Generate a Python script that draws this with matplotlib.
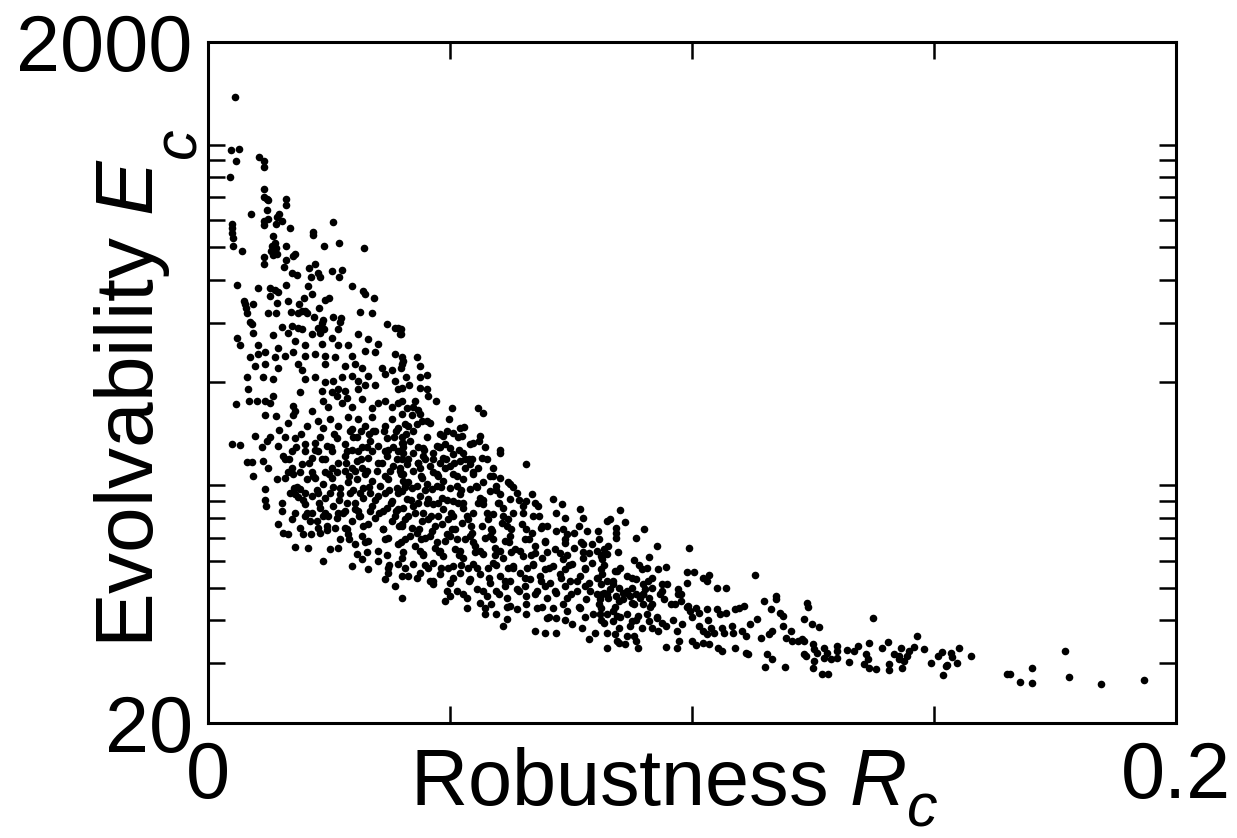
import numpy as np
import matplotlib
matplotlib.use("Agg")
import matplotlib.pyplot as plt
from matplotlib.ticker import NullFormatter

plt.rcParams['font.family'] = 'Liberation Sans'
plt.rcParams['mathtext.fontset'] = 'custom'
plt.rcParams['mathtext.rm'] = 'Liberation Sans'
plt.rcParams['mathtext.it'] = 'Liberation Sans:italic'

# (robustness R_c, evolvability E_c), grouped by region
pts_top_left = [
    (0.0056, 1380), (0.0047, 961), (0.0064, 968), (0.0058, 892), (0.0045, 801), (0.0105, 917),
    (0.0116, 892), (0.0116, 857), (0.0116, 738), (0.0116, 699), (0.0122, 690), (0.0124, 685),
    (0.0161, 694), (0.0161, 662), (0.0122, 640), (0.0089, 623), (0.0147, 627), (0.0142, 611),
    (0.0116, 598), (0.0124, 606), (0.0116, 582), (0.0153, 598), (0.0140, 586), (0.0169, 567),
    (0.0258, 594), (0.0050, 586), (0.0050, 567), (0.0050, 548), (0.0052, 533), (0.0217, 555),
    (0.0217, 544), (0.0134, 540), (0.0052, 502), (0.0070, 488), (0.0138, 515), (0.0132, 502),
    (0.0140, 498), (0.0130, 488), (0.0161, 502), (0.0239, 505), (0.0270, 512), (0.0322, 495),
    (0.0134, 475), (0.0142, 478), (0.0175, 472), (0.0180, 478), (0.0116, 466), (0.0116, 447),
    (0.0161, 459), (0.0157, 438), (0.0208, 435), (0.0221, 447), (0.0173, 418), (0.0184, 415),
    (0.0227, 418), (0.0231, 409), (0.0213, 407), (0.0256, 424), (0.0277, 429), (0.0270, 407),
    (0.0060, 388), (0.0103, 380), (0.0128, 380), (0.0138, 375), (0.0144, 370), (0.0128, 360),
    (0.0161, 388), (0.0206, 383), (0.0215, 365), (0.0198, 355), (0.0297, 383), (0.0320, 372),
    (0.0324, 365), (0.0343, 355), (0.0074, 348), (0.0076, 339), (0.0078, 330), (0.0080, 319),
    (0.0093, 341), (0.0165, 348), (0.0142, 343), (0.0241, 350), (0.0250, 353), (0.0229, 332),
    (0.0188, 339), (0.0194, 325), (0.0200, 325), (0.0186, 321), (0.0204, 321), (0.0124, 319),
    (0.0140, 319), (0.0171, 323), (0.0219, 312), (0.0258, 312), (0.0275, 310), (0.0272, 302),
    (0.0314, 323), (0.0338, 319), (0.0237, 306), (0.0235, 300), (0.0087, 302), (0.0091, 298),
    (0.0153, 292), (0.0173, 294), (0.0186, 290), (0.0194, 288), (0.0227, 290), (0.0239, 288),
    (0.0369, 298), (0.0386, 290), (0.0392, 290), (0.0268, 288),
]

pts_left_core = [
    (0.0060, 271), (0.0066, 257), (0.0093, 280), (0.0134, 275), (0.0103, 257), (0.0144, 253),
    (0.0180, 265), (0.0200, 257), (0.0215, 278), (0.0235, 260), (0.0256, 271), (0.0268, 257),
    (0.0289, 257), (0.0310, 278), (0.0330, 269), (0.0351, 260), (0.0396, 278), (0.0165, 280),
    (0.0231, 280),
    (0.0087, 237), (0.0103, 243), (0.0118, 245), (0.0138, 237), (0.0159, 240), (0.0175, 245),
    (0.0200, 240), (0.0221, 243), (0.0241, 240), (0.0262, 237), (0.0297, 240), (0.0324, 248),
    (0.0345, 245), (0.0386, 243), (0.0097, 224), (0.0118, 227), (0.0144, 221), (0.0186, 227),
    (0.0194, 217), (0.0241, 227), (0.0283, 224), (0.0303, 227), (0.0318, 220), (0.0359, 220),
    (0.0380, 217), (0.0400, 227),
    (0.0080, 207), (0.0114, 207), (0.0134, 205), (0.0083, 192), (0.0200, 205), (0.0221, 207),
    (0.0241, 200), (0.0258, 202), (0.0277, 207), (0.0297, 209), (0.0310, 202), (0.0330, 209),
    (0.0345, 196), (0.0365, 212), (0.0386, 202), (0.0392, 192), (0.0190, 187), (0.0268, 192),
    (0.0283, 189), (0.0310, 192), (0.0324, 196),
    (0.0058, 173), (0.0085, 176), (0.0101, 176), (0.0118, 177), (0.0128, 174), (0.0134, 183),
    (0.0175, 171), (0.0180, 165), (0.0215, 165), (0.0237, 177), (0.0248, 169), (0.0266, 183),
    (0.0277, 174), (0.0287, 180), (0.0297, 169), (0.0318, 179), (0.0338, 168), (0.0351, 174),
    (0.0365, 177), (0.0380, 169), (0.0392, 174), (0.0235, 189), (0.0256, 187),
    (0.0118, 160), (0.0140, 159), (0.0175, 160), (0.0204, 149), (0.0227, 154), (0.0237, 147),
    (0.0252, 156), (0.0268, 149), (0.0289, 158), (0.0297, 146), (0.0310, 156), (0.0324, 149),
    (0.0338, 158), (0.0345, 144), (0.0365, 149), (0.0380, 156), (0.0392, 147), (0.0147, 145),
    (0.0165, 152), (0.0400, 162),
    (0.0050, 132), (0.0066, 131), (0.0097, 139), (0.0111, 129), (0.0122, 135), (0.0128, 138),
    (0.0144, 130), (0.0180, 137), (0.0200, 132), (0.0221, 133), (0.0246, 130), (0.0266, 137),
    (0.0283, 132), (0.0299, 138), (0.0318, 129), (0.0334, 135), (0.0351, 130), (0.0369, 137),
    (0.0382, 129), (0.0400, 133), (0.0159, 138),
    (0.0080, 117), (0.0091, 117), (0.0114, 118), (0.0124, 112), (0.0155, 122), (0.0159, 119),
    (0.0173, 112), (0.0194, 115), (0.0215, 120), (0.0235, 119), (0.0256, 112), (0.0268, 116),
    (0.0283, 122), (0.0308, 118), (0.0318, 112), (0.0330, 120), (0.0351, 116), (0.0369, 122),
    (0.0382, 114), (0.0400, 119), (0.0297, 112),
    (0.0093, 106), (0.0142, 104), (0.0159, 105), (0.0177, 98.1), (0.0190, 97.4), (0.0204, 104),
    (0.0221, 105), (0.0237, 101), (0.0256, 105), (0.0272, 98.1), (0.0289, 102), (0.0308, 104),
    (0.0320, 98.1), (0.0338, 103), (0.0355, 99.4), (0.0372, 104), (0.0390, 98.1), (0.0402, 103),
    (0.0118, 97.4),
    (0.0180, 94.2), (0.0186, 92.3), (0.0118, 90.4), (0.0120, 86.8), (0.0153, 88.6), (0.0200, 88.0),
    (0.0215, 92.9), (0.0231, 85.7), (0.0241, 91.7), (0.0258, 86.8), (0.0272, 94.2), (0.0287, 88.6),
    (0.0303, 85.1), (0.0320, 91.7), (0.0338, 86.8), (0.0351, 92.9), (0.0369, 85.7), (0.0380, 89.8),
    (0.0392, 85.1), (0.0153, 83.9),
    (0.0144, 76.9), (0.0173, 79.5), (0.0200, 81.2), (0.0211, 78.5), (0.0225, 78.5), (0.0248, 81.2),
    (0.0266, 80.1), (0.0283, 74.8), (0.0297, 78.5), (0.0314, 81.2), (0.0330, 76.9), (0.0345, 80.1),
    (0.0361, 74.3), (0.0380, 78.5), (0.0400, 75.8), (0.0268, 82.8),
    (0.0155, 72.3), (0.0165, 71.9), (0.0196, 71.9), (0.0213, 71.9), (0.0231, 72.3), (0.0246, 73.8),
    (0.0272, 69.5), (0.0289, 71.9), (0.0303, 67.2), (0.0318, 70.9), (0.0330, 68.5), (0.0351, 64.1),
    (0.0372, 69.9), (0.0392, 67.2), (0.0180, 65.8), (0.0206, 65.4), (0.0252, 64.9), (0.0268, 65.4),
    (0.0237, 59.8), (0.0297, 57.9), (0.0318, 60.6), (0.0330, 56.7), (0.0351, 59.8), (0.0372, 57.1),
    (0.0392, 58.7), (0.0308, 62.7),
    (0.0365, 53.0), (0.0386, 50.5), (0.0400, 54.1), (0.0372, 55.2),
]

pts_mid_upper = [
    (0.0398, 288), (0.0398, 278), (0.0400, 237), (0.0402, 232), (0.0431, 237), (0.0438, 224),
    (0.0398, 220), (0.0409, 207), (0.0438, 207), (0.0452, 211), (0.0415, 196), (0.0438, 193),
    (0.0452, 192), (0.0454, 182), (0.0400, 193), (0.0471, 176), (0.0427, 177), (0.0400, 177),
    (0.0411, 168), (0.0423, 169), (0.0433, 166), (0.0438, 162), (0.0504, 168), (0.0557, 168),
    (0.0568, 163), (0.0497, 156), (0.0421, 160), (0.0407, 151), (0.0413, 149), (0.0431, 151),
    (0.0442, 154), (0.0452, 154), (0.0458, 152), (0.0423, 144), (0.0479, 141), (0.0485, 139),
    (0.0520, 147), (0.0528, 148), (0.0493, 144), (0.0506, 142), (0.0561, 139), (0.0559, 135),
    (0.0516, 138), (0.0524, 139), (0.0452, 138), (0.0400, 138), (0.0402, 133), (0.0417, 135),
    (0.0433, 129), (0.0444, 128), (0.0473, 130), (0.0479, 129), (0.0489, 132), (0.0499, 128),
    (0.0541, 132), (0.0547, 133), (0.0572, 129), (0.0603, 127),
]

pts_mid_core = [
    (0.0658, 115), (0.0619, 102), (0.0623, 101), (0.0712, 91.0), (0.0731, 88.0), (0.0737, 80.1),
    (0.0768, 85.1), (0.0774, 80.1), (0.0784, 73.3), (0.0805, 73.3), (0.0603, 124), (0.0566, 120),
    (0.0541, 115), (0.0557, 112), (0.0588, 112), (0.0603, 105), (0.0638, 94.8), (0.0669, 94.2),
    (0.0681, 86.8), (0.0658, 89.8), (0.0700, 75.8), (0.0720, 73.3), (0.0741, 71.9), (0.0757, 72.3),
    (0.0774, 67.2), (0.0793, 67.2), (0.0803, 64.1),
    (0.0400, 46.6), (0.0464, 51.2), (0.0489, 45.6), (0.0499, 47.2), (0.0535, 43.6), (0.0572, 43.6),
    (0.0572, 41.8), (0.0561, 45.0), (0.0596, 41.8), (0.0609, 38.5), (0.0617, 40.4), (0.0658, 41.8),
    (0.0675, 37.2), (0.0696, 36.7), (0.0720, 36.7), (0.0700, 40.7), (0.0720, 40.7), (0.0753, 39.0),
    (0.0772, 38.0), (0.0788, 35.2), (0.0799, 36.7), (0.0679, 43.6), (0.0638, 43.3),
    (0.0402, 124), (0.0423, 124), (0.0444, 122), (0.0464, 124), (0.0485, 120), (0.0506, 123),
    (0.0526, 124), (0.0411, 115), (0.0433, 116), (0.0458, 114), (0.0479, 116), (0.0499, 114),
    (0.0520, 118), (0.0545, 119),
    (0.0402, 108), (0.0423, 110), (0.0442, 105), (0.0464, 109), (0.0485, 103), (0.0506, 108),
    (0.0526, 104), (0.0547, 109), (0.0568, 102), (0.0582, 106), (0.0413, 102), (0.0452, 101),
    (0.0475, 106),
    (0.0400, 96.1), (0.0421, 98.1), (0.0438, 92.9), (0.0462, 97.4), (0.0483, 91.7), (0.0499, 98.1),
    (0.0520, 94.2), (0.0541, 97.4), (0.0561, 91.7), (0.0582, 96.1), (0.0603, 94.2), (0.0623, 91.0),
    (0.0411, 91.0), (0.0454, 91.0), (0.0506, 89.8),
    (0.0402, 85.7), (0.0423, 86.8), (0.0444, 82.8), (0.0464, 88.0), (0.0485, 85.1), (0.0506, 81.2),
    (0.0526, 85.7), (0.0547, 82.8), (0.0568, 88.0), (0.0588, 82.3), (0.0609, 85.7), (0.0630, 82.8),
    (0.0650, 86.8), (0.0671, 81.2), (0.0413, 81.2), (0.0475, 81.2),
    (0.0400, 76.9), (0.0421, 74.8), (0.0442, 78.5), (0.0462, 73.3), (0.0483, 76.9), (0.0504, 74.3),
    (0.0524, 77.4), (0.0545, 72.3), (0.0566, 75.8), (0.0586, 73.3), (0.0607, 77.4), (0.0627, 74.3),
    (0.0648, 76.9), (0.0669, 72.3), (0.0689, 74.8), (0.0431, 72.3), (0.0493, 71.9),
    (0.0407, 69.5), (0.0427, 66.3), (0.0448, 69.9), (0.0469, 65.4), (0.0489, 68.5), (0.0510, 64.9),
    (0.0530, 69.5), (0.0551, 66.3), (0.0572, 69.9), (0.0592, 65.4), (0.0613, 68.5), (0.0634, 64.9),
    (0.0654, 69.5), (0.0675, 66.3), (0.0696, 68.5), (0.0716, 64.9), (0.0737, 67.6), (0.0757, 65.4),
    (0.0400, 61.0), (0.0423, 58.7), (0.0444, 62.7), (0.0464, 59.0), (0.0485, 61.9), (0.0506, 57.9),
    (0.0526, 61.0), (0.0547, 58.7), (0.0568, 62.7), (0.0588, 59.0), (0.0609, 61.0), (0.0630, 57.9),
    (0.0650, 61.9), (0.0671, 58.7), (0.0691, 61.0), (0.0712, 57.9), (0.0733, 60.6), (0.0753, 58.7),
    (0.0774, 61.0), (0.0793, 59.0),
    (0.0413, 54.1), (0.0438, 55.2), (0.0458, 52.3), (0.0479, 54.9), (0.0499, 51.6), (0.0520, 55.2),
    (0.0541, 53.0), (0.0561, 54.9), (0.0582, 51.6), (0.0603, 54.1), (0.0623, 52.3), (0.0644, 55.2),
    (0.0665, 53.0), (0.0685, 54.1), (0.0706, 51.6), (0.0727, 54.9), (0.0747, 52.3), (0.0768, 54.1),
    (0.0788, 51.6), (0.0805, 53.4),
    (0.0514, 48.9), (0.0535, 46.6), (0.0555, 49.5), (0.0576, 47.2), (0.0596, 48.9), (0.0617, 46.6),
    (0.0638, 49.5), (0.0658, 47.2), (0.0679, 48.9), (0.0700, 46.6), (0.0720, 48.2), (0.0741, 46.6),
    (0.0762, 48.9), (0.0782, 46.2), (0.0803, 47.8),
    (0.0623, 44.2), (0.0712, 43.6), (0.0741, 42.7), (0.0768, 43.6), (0.0795, 41.8),
]

# points in the solid-black core of the cloud
pts_core_fill = [
    (0.0293, 144), (0.0316, 144), (0.0341, 144), (0.0363, 144), (0.0388, 144),
    (0.0287, 126), (0.0310, 126), (0.0338, 126), (0.0365, 126), (0.0392, 126),
    (0.0283, 110), (0.0303, 110), (0.0328, 110), (0.0349, 110), (0.0376, 110), (0.0396, 110),
    (0.0293, 94.8), (0.0314, 94.8), (0.0334, 94.8), (0.0365, 94.8), (0.0392, 94.8),
    (0.0283, 83.9), (0.0310, 83.9), (0.0334, 83.9), (0.0361, 83.9), (0.0388, 83.9),
    (0.0173, 126), (0.0200, 126), (0.0227, 126), (0.0256, 126),
    (0.0165, 109), (0.0190, 109), (0.0215, 109), (0.0241, 109), (0.0266, 109),
    (0.0169, 94.8), (0.0200, 94.8), (0.0227, 94.8), (0.0252, 94.8),
    (0.0180, 82.8), (0.0215, 82.8), (0.0241, 82.8),
    (0.0190, 74.8), (0.0227, 74.8), (0.0262, 74.8),
    (0.0413, 119), (0.0448, 119), (0.0491, 119), (0.0532, 119), (0.0576, 119),
    (0.0396, 112), (0.0438, 112), (0.0489, 112), (0.0530, 112),
    (0.0407, 99.4), (0.0431, 99.4), (0.0473, 99.4), (0.0514, 99.4), (0.0553, 99.4), (0.0596, 99.4),
    (0.0433, 88.6), (0.0475, 88.6), (0.0516, 88.6), (0.0557, 88.6), (0.0599, 88.6),
    (0.0407, 79.5), (0.0454, 79.5), (0.0495, 79.5), (0.0537, 79.5), (0.0578, 79.5), (0.0619, 79.5),
    (0.0417, 70.9), (0.0458, 70.9), (0.0499, 70.9), (0.0541, 70.9), (0.0582, 70.9), (0.0623, 70.9),
    (0.0438, 64.1), (0.0479, 64.1), (0.0520, 64.1), (0.0561, 64.1), (0.0603, 64.1), (0.0644, 64.1),
    (0.0454, 57.1), (0.0495, 57.1), (0.0537, 57.1), (0.0578, 57.1), (0.0619, 57.1), (0.0660, 57.1),
    (0.0613, 50.5), (0.0654, 50.5), (0.0696, 50.5), (0.0737, 50.5), (0.0778, 50.5),
    (0.0696, 56.7), (0.0737, 56.7), (0.0778, 56.7),
    (0.0675, 63.2), (0.0727, 63.2), (0.0788, 63.2),
]

pts_core_dense = [
    (0.0192, 141), (0.0231, 138), (0.0260, 141), (0.0308, 138), (0.0332, 141), (0.0384, 138),
    (0.0409, 141),
    (0.0182, 129), (0.0221, 127), (0.0254, 129), (0.0297, 127), (0.0328, 129), (0.0372, 127),
    (0.0402, 129), (0.0446, 127), (0.0477, 129), (0.0518, 127),
    (0.0167, 119), (0.0208, 116), (0.0241, 119), (0.0285, 116), (0.0316, 119), (0.0359, 116),
    (0.0390, 119), (0.0433, 116), (0.0464, 119), (0.0508, 116), (0.0539, 119),
    (0.0175, 108), (0.0217, 106), (0.0250, 108), (0.0291, 106), (0.0324, 108), (0.0365, 106),
    (0.0398, 108), (0.0440, 106), (0.0473, 108), (0.0514, 106), (0.0547, 108), (0.0588, 106),
    (0.0184, 98.7), (0.0225, 96.8), (0.0258, 98.7), (0.0299, 96.8), (0.0332, 98.7), (0.0374, 96.8),
    (0.0407, 98.7), (0.0448, 96.8), (0.0481, 98.7), (0.0522, 96.8), (0.0555, 98.7), (0.0596, 96.8),
    (0.0630, 98.7),
    (0.0196, 90.4), (0.0229, 88.6), (0.0270, 90.4), (0.0303, 88.6), (0.0345, 90.4), (0.0378, 88.6),
    (0.0419, 90.4), (0.0452, 88.6), (0.0493, 90.4), (0.0526, 88.6), (0.0568, 90.4), (0.0601, 88.6),
    (0.0642, 90.4), (0.0675, 88.6),
    (0.0204, 82.8), (0.0237, 81.2), (0.0279, 82.8), (0.0312, 81.2), (0.0353, 82.8), (0.0386, 81.2),
    (0.0427, 82.8), (0.0460, 81.2), (0.0502, 82.8), (0.0535, 81.2), (0.0576, 82.8), (0.0609, 81.2),
    (0.0650, 82.8), (0.0683, 81.2), (0.0720, 82.8),
    (0.0246, 75.8), (0.0287, 74.3), (0.0320, 75.8), (0.0361, 74.3), (0.0394, 75.8), (0.0436, 74.3),
    (0.0469, 75.8), (0.0510, 74.3), (0.0543, 75.8), (0.0584, 74.3), (0.0617, 75.8), (0.0658, 74.3),
    (0.0691, 75.8), (0.0733, 74.3), (0.0766, 75.8),
    (0.0291, 69.5), (0.0324, 68.1), (0.0365, 69.5), (0.0398, 68.1), (0.0440, 69.5), (0.0473, 68.1),
    (0.0514, 69.5), (0.0547, 68.1), (0.0588, 69.5), (0.0621, 68.1), (0.0663, 69.5), (0.0696, 68.1),
    (0.0737, 69.5), (0.0770, 68.1), (0.0807, 69.5),
    (0.0328, 63.6), (0.0369, 62.3), (0.0402, 63.6), (0.0444, 62.3), (0.0477, 63.6), (0.0518, 62.3),
    (0.0551, 63.6), (0.0592, 62.3), (0.0625, 63.6), (0.0667, 62.3), (0.0700, 63.6), (0.0741, 62.3),
    (0.0774, 63.6), (0.0815, 62.3), (0.0848, 63.6),
    (0.0374, 58.3), (0.0407, 57.1), (0.0448, 58.3), (0.0481, 57.1), (0.0522, 58.3), (0.0555, 57.1),
    (0.0596, 58.3), (0.0630, 57.1), (0.0671, 58.3), (0.0704, 57.1), (0.0745, 58.3), (0.0778, 57.1),
    (0.0819, 58.3), (0.0852, 57.1), (0.0890, 58.3),
    (0.0431, 53.4), (0.0464, 52.3), (0.0506, 53.4), (0.0539, 52.3), (0.0580, 53.4), (0.0613, 52.3),
    (0.0654, 53.4), (0.0687, 52.3), (0.0729, 53.4), (0.0762, 52.3), (0.0803, 53.4), (0.0836, 52.3),
    (0.0877, 53.4), (0.0910, 52.3),
    (0.0493, 48.9), (0.0526, 47.8), (0.0568, 48.9), (0.0601, 47.8), (0.0642, 48.9), (0.0675, 47.8),
    (0.0716, 48.9), (0.0749, 47.8), (0.0790, 48.9), (0.0824, 47.8), (0.0865, 48.9), (0.0898, 47.8),
    (0.0939, 48.9), (0.0972, 47.8),
    (0.0584, 44.8), (0.0617, 43.9), (0.0658, 44.8), (0.0691, 43.9), (0.0733, 44.8), (0.0766, 43.9),
    (0.0807, 44.8), (0.0840, 43.9), (0.0881, 44.8), (0.0914, 43.9), (0.0956, 44.8), (0.0989, 43.9),
    (0.0704, 40.9), (0.0737, 40.1), (0.0778, 40.9), (0.0811, 40.1), (0.0852, 40.9), (0.0885, 40.1),
    (0.0927, 40.9), (0.0960, 40.1), (0.1001, 40.9), (0.1034, 40.1),
]

pts_right_core = [
    (0.0852, 84.5), (0.0824, 78.5), (0.0830, 79.5), (0.0861, 77.9), (0.0844, 74.8), (0.0844, 72.3),
    (0.0900, 74.3), (0.0885, 69.9), (0.0842, 69.9), (0.0826, 66.3), (0.0819, 64.9), (0.0927, 66.3),
    (0.0993, 65.4), (0.0813, 61.9), (0.0815, 60.6), (0.0824, 62.7), (0.0881, 60.2), (0.0912, 61.5),
    (0.0906, 57.1), (0.0896, 56.7), (0.0929, 56.7), (0.0947, 57.5), (0.0840, 56.0), (0.0846, 56.0),
    (0.0813, 56.7), (0.0815, 54.9), (0.0865, 54.1), (0.0885, 53.0), (0.0918, 53.4), (0.0989, 55.6),
    (0.1005, 55.6), (0.1022, 53.4), (0.1032, 52.3), (0.1036, 54.5), (0.0824, 52.3), (0.0836, 51.2),
    (0.0850, 49.9), (0.0857, 48.2), (0.0877, 49.9), (0.0898, 51.2), (0.0902, 49.5), (0.0918, 49.9),
    (0.0937, 51.2), (0.0949, 51.2), (0.0972, 49.5), (0.0978, 47.8), (0.0989, 51.6), (0.1051, 49.9),
    (0.1071, 49.9), (0.1131, 54.5), (0.0815, 47.8), (0.0826, 46.6), (0.0844, 47.2), (0.0850, 45.6),
    (0.0871, 47.2), (0.0877, 45.0), (0.0892, 46.6), (0.0898, 44.8), (0.0912, 46.6), (0.0918, 44.8),
    (0.0933, 47.8), (0.0943, 46.2), (0.0964, 44.8), (0.0978, 45.6), (0.0991, 44.2), (0.0995, 42.7),
    (0.1009, 43.6), (0.1015, 42.1), (0.1030, 43.3), (0.1051, 43.3), (0.1057, 41.8), (0.1071, 42.1),
    (0.1088, 43.3), (0.1098, 43.6), (0.1108, 44.2), (0.1174, 47.2), (0.1174, 46.2), (0.1148, 45.6),
    (0.1164, 43.3), (0.1181, 42.1), (0.1187, 41.2), (0.1135, 40.4), (0.0813, 43.6), (0.0824, 41.8),
    (0.0836, 42.7), (0.0846, 41.2), (0.0865, 41.8), (0.0875, 39.8), (0.0888, 41.2), (0.0906, 41.8),
    (0.0912, 39.8), (0.0927, 40.7), (0.0937, 39.3), (0.0947, 38.5), (0.0968, 37.2), (0.0980, 39.0),
    (0.1015, 38.5), (0.1022, 37.2), (0.1030, 36.5), (0.1040, 38.0), (0.1046, 36.7), (0.1061, 38.0),
    (0.1067, 36.7), (0.1082, 38.5), (0.1084, 36.7), (0.1104, 37.2), (0.1112, 36.0), (0.1119, 39.0),
    (0.1143, 35.5), (0.1160, 36.5), (0.1166, 37.2), (0.1187, 38.5), (0.1195, 35.5), (0.1205, 37.2),
    (0.1207, 34.8), (0.1218, 34.8), (0.0824, 36.7), (0.0840, 36.5), (0.0846, 34.8), (0.0865, 36.0),
    (0.0881, 36.0), (0.0885, 34.8), (0.0824, 33.2), (0.0850, 34.3), (0.0861, 34.1), (0.0888, 33.2),
    (0.0947, 33.4), (0.0970, 33.2), (0.0974, 34.8), (0.0999, 34.8), (0.1009, 33.9), (0.1022, 34.3),
    (0.1036, 34.1), (0.1053, 33.2), (0.1061, 32.5), (0.1088, 33.2), (0.1112, 32.1), (0.1115, 31.9),
    (0.1154, 31.9), (0.1166, 30.8), (0.1150, 29.2), (0.1193, 29.2),
    (0.0813, 51.2), (0.0819, 48.2), (0.0830, 49.5), (0.0857, 46.2), (0.0865, 48.2), (0.0885, 47.8),
    (0.0898, 47.8), (0.0836, 39.8), (0.0850, 38.0), (0.0871, 38.5), (0.0896, 38.0), (0.0918, 38.0),
    (0.0929, 37.2), (0.0819, 39.3), (0.0809, 46.2), (0.0809, 41.8),
]

pts_tail = [
    (0.1238, 45.0), (0.1240, 43.9), (0.1232, 40.4), (0.1247, 39.0), (0.1263, 38.2), (0.1373, 40.7),
    (0.1228, 35.2), (0.1232, 34.8), (0.1249, 34.1), (0.1253, 33.0), (0.1236, 31.5), (0.1232, 31.9),
    (0.1259, 32.1), (0.1273, 33.2), (0.1278, 32.1), (0.1253, 30.4), (0.1249, 29.0), (0.1269, 27.9),
    (0.1280, 27.9), (0.1273, 31.0), (0.1288, 30.8), (0.1300, 33.7), (0.1300, 32.5), (0.1300, 31.0),
    (0.1321, 32.8), (0.1325, 30.2), (0.1335, 32.5), (0.1342, 33.7), (0.1360, 31.9), (0.1364, 30.8),
    (0.1366, 34.3), (0.1356, 29.8), (0.1366, 29.0), (0.1381, 28.8), (0.1393, 33.2), (0.1404, 34.5),
    (0.1408, 29.8), (0.1406, 28.6), (0.1418, 31.9), (0.1428, 31.5), (0.1428, 30.8), (0.1432, 33.2),
    (0.1439, 30.4), (0.1445, 31.5), (0.1449, 32.5), (0.1434, 29.0), (0.1459, 33.4), (0.1465, 36.0),
    (0.1480, 33.0), (0.1494, 30.0), (0.1509, 31.5), (0.1517, 32.3), (0.1536, 32.1), (0.1538, 31.3),
    (0.1548, 30.0), (0.1552, 33.2), (0.1525, 29.4), (0.1527, 29.6), (0.1519, 27.7), (0.1577, 31.5),
    (0.1651, 27.9), (0.1657, 27.9), (0.1678, 26.4), (0.1703, 29.0), (0.1703, 26.2), (0.1771, 32.5),
    (0.1779, 27.3), (0.1845, 26.0), (0.1934, 26.7),
]

y_minor_ticks = [30, 40, 50, 60, 70, 80, 90, 100, 200, 300, 400, 500, 600, 700, 800, 900, 1000]
x_minor_ticks = [0.05, 0.1, 0.15]

all_pts = np.array(pts_top_left + pts_left_core + pts_mid_upper + pts_mid_core
                   + pts_core_fill + pts_core_dense + pts_right_core + pts_tail)
R = all_pts[:, 0]
E = all_pts[:, 1]

W, H = 1237, 838
fig = plt.figure(figsize=(W / 100, H / 100), dpi=100)
ax = fig.add_axes([208 / W, 1 - 723 / H, 968 / W, 681 / H])

ax.scatter(R, E, s=30, c='black', linewidths=0)

ax.set_yscale('log')
ax.set_xlim(0, 0.2)
ax.set_ylim(20, 2000)

ax.set_xticks([0, 0.2])
ax.set_xticklabels(['0', '0.2'])
ax.set_xticks(x_minor_ticks, minor=True)
ax.set_yticks([20, 2000])
ax.set_yticklabels(['20', '2000'])
ax.set_yticks(y_minor_ticks, minor=True)
ax.yaxis.set_minor_formatter(NullFormatter())
ax.xaxis.set_minor_formatter(NullFormatter())

ax.tick_params(which='major', length=0, labelsize=57)
ax.tick_params(axis='x', which='major', pad=12)
ax.tick_params(axis='y', which='major', pad=11)
ax.tick_params(which='minor', direction='in', length=12.5, width=1.8,
               top=True, right=True)

for s in ax.spines.values():
    s.set_linewidth(2.2)

# axis titles with a large, well-lowered subscript c
xl = fig.text(410 / W, 1 - 805 / H, r'Robustness $R$', fontsize=57,
              ha='left', va='baseline')
yl = fig.text(153 / W, 1 - 648 / H, r'Evolvability $E$', fontsize=59,
              rotation=90, rotation_mode='anchor', ha='left', va='baseline')
fig.canvas.draw()
bx = xl.get_window_extent()
by = yl.get_window_extent()
fig.text(bx.x1 / W, 1 - 826 / H, 'c', fontsize=44, style='italic',
         ha='left', va='baseline')
fig.text(195 / W, by.y1 / H, 'c', fontsize=44, style='italic',
         rotation=90, rotation_mode='anchor', ha='left', va='baseline')

fig.savefig('out.png', dpi=100)
